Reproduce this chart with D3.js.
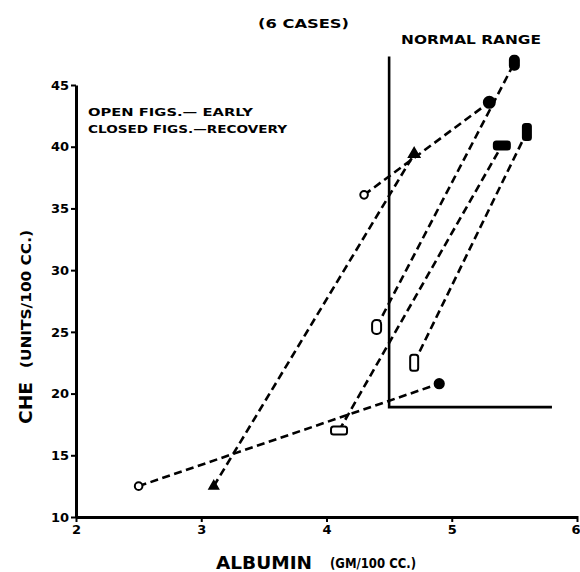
<!DOCTYPE html>
<html><head><meta charset="utf-8">
<script src="https://cdn.jsdelivr.net/npm/d3@7"></script>
<style>body{margin:0;background:#fff}</style>
</head><body>
<svg id="c" width="580" height="572"></svg>
<script>
// ---- data ----
const xTicks = [2, 3, 4, 5, 6];
const yTicks = [10, 15, 20, 25, 30, 35, 40, 45];
const caseShape = ["circle", "triangle", "hrect", "vrect", "dshape", "circle"];
const earlyAlbumin = [2.5, 3.1, 4.1, 4.7, 4.4, 4.3];
const earlyChe = [12.5, 12.5, 17.0, 22.5, 25.4, 36.1];
const recoveryAlbumin = [4.9, 4.7, 5.4, 5.6, 5.5, 5.3];
const recoveryChe = [20.8, 39.4, 40.1, 41.2, 46.8, 43.6];
const normalAlbumin = [4.5, 5.8];
const normalChe = [18.9, 47.3];
const legendLines = ["OPEN FIGS.\u2014 EARLY", "CLOSED FIGS.\u2014RECOVERY"];

// ---- chart ----
const svg = d3.select("#c");
const FONT = "'DejaVu Sans', sans-serif";
const x = d3.scaleLinear().domain([2, 6]).range([76, 577]);
const y = d3.scaleLinear().domain([10, 45]).range([517, 85]);

// axes
const gy = svg.append("g").attr("transform", `translate(${x(2)},0)`)
  .call(d3.axisLeft(y).tickValues(yTicks).tickSize(5).tickSizeOuter(0).tickPadding(2).tickFormat(d3.format("d")));
const gx = svg.append("g").attr("transform", `translate(0,${y(10)})`)
  .call(d3.axisBottom(x).tickValues(xTicks).tickSize(5).tickSizeOuter(0).tickPadding(3).tickFormat(d3.format("d")));
[gx, gy].forEach(g => {
  g.select(".domain").attr("stroke", "#000").attr("stroke-width", 3);
  g.selectAll(".tick line").attr("stroke", "#000").attr("stroke-width", 2);
  g.selectAll(".tick text").attr("font-family", FONT).attr("font-weight", "bold")
    .attr("font-size", 13).attr("fill", "#000");
});
gx.selectAll(".tick line").attr("y1", -1);
gx.selectAll(".tick text").filter(d => d === xTicks[xTicks.length - 1])
  .attr("text-anchor", "end").attr("x", 3);

// normal range lines
svg.append("path")
  .attr("d", d3.line()([[x(normalAlbumin[0]), y(normalChe[1])], [x(normalAlbumin[0]), y(normalChe[0])], [x(normalAlbumin[1]), y(normalChe[0])]]))
  .attr("fill", "none").attr("stroke", "#000").attr("stroke-width", 2.6);

// dashed connecting lines
earlyAlbumin.forEach((a, i) => {
  svg.append("line")
    .attr("x1", x(a)).attr("y1", y(earlyChe[i]))
    .attr("x2", x(recoveryAlbumin[i])).attr("y2", y(recoveryChe[i]))
    .attr("stroke", "#000").attr("stroke-width", 2.6).attr("stroke-dasharray", "8,4.5");
});

// markers
function marker(cx, cy, shape, filled, big) {
  const fill = filled ? "#000" : "#fff";
  const g = svg.append("g").attr("transform", `translate(${cx},${cy})`);
  if (shape === "circle") {
    g.append("circle").attr("r", filled ? (big ? 5.5 : 4.6) : 3.8)
      .attr("fill", fill).attr("stroke", "#000").attr("stroke-width", 2);
  } else if (shape === "triangle") {
    g.append("path").attr("d", d3.symbol(d3.symbolTriangle, filled ? 55 : 40)())
      .attr("fill", "#000").attr("stroke", "#000").attr("stroke-width", 1.5);
  } else if (shape === "hrect") {
    g.append("rect").attr("x", -8).attr("y", -4).attr("width", 16).attr("height", 8).attr("rx", 2.5)
      .attr("fill", fill).attr("stroke", "#000").attr("stroke-width", 2);
  } else if (shape === "vrect") {
    g.append("rect").attr("x", -4).attr("y", -8).attr("width", 8).attr("height", 16).attr("rx", 2.5)
      .attr("fill", fill).attr("stroke", "#000").attr("stroke-width", 2);
  } else if (shape === "dshape") {
    g.append("rect").attr("x", -4.5).attr("y", -7).attr("width", 9).attr("height", 14).attr("rx", 4)
      .attr("fill", fill).attr("stroke", "#000").attr("stroke-width", 2);
  }
}
earlyAlbumin.forEach((a, i) => marker(x(a), y(earlyChe[i]), caseShape[i], false, false));
recoveryAlbumin.forEach((a, i) => marker(x(a), y(recoveryChe[i]), caseShape[i], true, i === 5));

// texts
function txt(s, tx, ty, size, len, anchor) {
  const t = svg.append("text").attr("x", tx).attr("y", ty).text(s)
    .attr("font-family", FONT).attr("font-weight", "bold").attr("font-size", size)
    .attr("text-anchor", anchor || "start").attr("fill", "#000");
  if (len) t.attr("textLength", len).attr("lengthAdjust", "spacingAndGlyphs");
  return t;
}
txt("(6 CASES)", 258, 28, 13, 91);
txt("NORMAL RANGE", 401, 44, 12, 140);
txt(legendLines[0], 88, 116, 11, 165);
txt(legendLines[1], 88, 133, 11, 199);
txt("ALBUMIN", 216, 569, 18, 96);
txt("(GM/100 CC.)", 330, 568, 14, 86);

// rotated y label
function rtxt(s, bx, startY, size, len) {
  svg.append("text").attr("transform", `translate(${bx},${startY}) rotate(-90)`)
    .attr("font-family", FONT).attr("font-weight", "bold").attr("font-size", size).attr("fill", "#000")
    .attr("textLength", len).attr("lengthAdjust", "spacingAndGlyphs").text(s);
}
rtxt("CHE", 32, 424, 18, 42);
rtxt("(UNITS/100 CC.)", 31, 368, 14, 138);
</script>
</body></html>
